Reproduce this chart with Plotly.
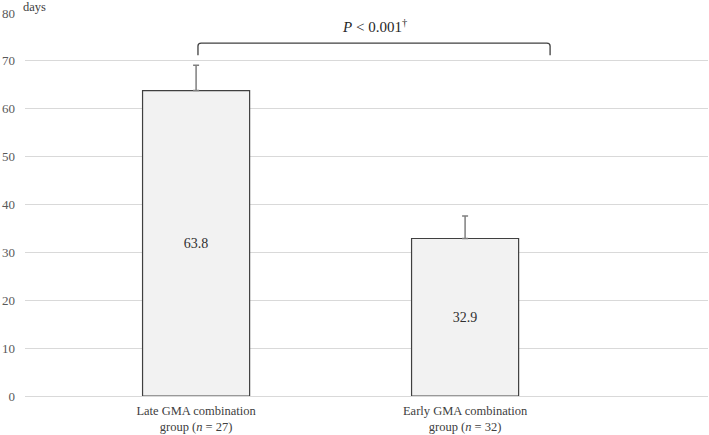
import plotly.graph_objects as go

categories = ["Late GMA combination<br>group (<i>n</i> = 27)",
              "Early GMA combination<br>group (<i>n</i> = 32)"]
means = [63.8, 32.9]
err_plus = [5.3, 4.7]
value_labels = ["63.8", "32.9"]
y_ticks = [0, 10, 20, 30, 40, 50, 60, 70, 80]
p_text = "<i>P</i> < 0.001<sup>†</sup>"

SERIF = "Liberation Serif, Times New Roman, serif"

fig = go.Figure()
fig.add_trace(go.Bar(
    x=categories, y=means, width=0.398,
    marker=dict(color="#f2f2f2", line=dict(color="#404040", width=1.2)),
    text=value_labels, textposition="inside", insidetextanchor="middle",
    textfont=dict(family=SERIF, size=14, color="#303030"),
    error_y=dict(type="data", symmetric=False, array=err_plus,
                 arrayminus=[0, 0], color="#7f7f7f", thickness=1.5, width=3),
    hoverinfo="skip",
))

# significance bracket (rounded corners)
xl, xr, yt, yb = 0.007, 1.316, 73.7, 71.2
rx, ry = 0.012, 0.6
path = (f"M {xl},{yb} L {xl},{yt-ry} Q {xl},{yt} {xl+rx},{yt} "
        f"L {xr-rx},{yt} Q {xr},{yt} {xr},{yt-ry} L {xr},{yb}")
fig.add_shape(type="path", path=path, xref="x", yref="y",
              line=dict(color="#404040", width=1.3))
fig.add_annotation(x=(xl + xr) / 2, y=yt, xref="x", yref="y", text=p_text,
                   showarrow=False, yanchor="bottom", yshift=6,
                   font=dict(family=SERIF, size=15, color="#262626"))
fig.add_annotation(x=0, y=1, xref="paper", yref="paper", text="days",
                   showarrow=False, xanchor="left", yanchor="bottom",
                   xshift=-4, yshift=-3,
                   font=dict(family=SERIF, size=12.5, color="#404040"))

fig.update_layout(
    width=709, height=435,
    margin=dict(l=25, r=1, t=13, b=39, autoexpand=False),
    paper_bgcolor="white", plot_bgcolor="white",
    showlegend=False,
    font=dict(family=SERIF, size=12, color="#595959"),
    xaxis=dict(type="category", range=[-0.636, 1.903], showgrid=False,
               showline=False, ticks="", zeroline=False, automargin=False,
               ticklabelstandoff=5,
               tickfont=dict(family=SERIF, size=12.5, color="#404040")),
    yaxis=dict(range=[0, 80], tickvals=y_ticks, showgrid=True,
               gridcolor="#d9d9d9", gridwidth=1, zeroline=True,
               zerolinecolor="#d9d9d9", zerolinewidth=1, showline=False,
               ticks="", ticklabelstandoff=9, automargin=False,
               tickfont=dict(family=SERIF, size=13, color="#595959")),
)

fig.write_html("out.html", config={"displayModeBar": False},
               post_script="document.body.style.margin='0';"
                           "document.body.style.overflow='hidden';")
